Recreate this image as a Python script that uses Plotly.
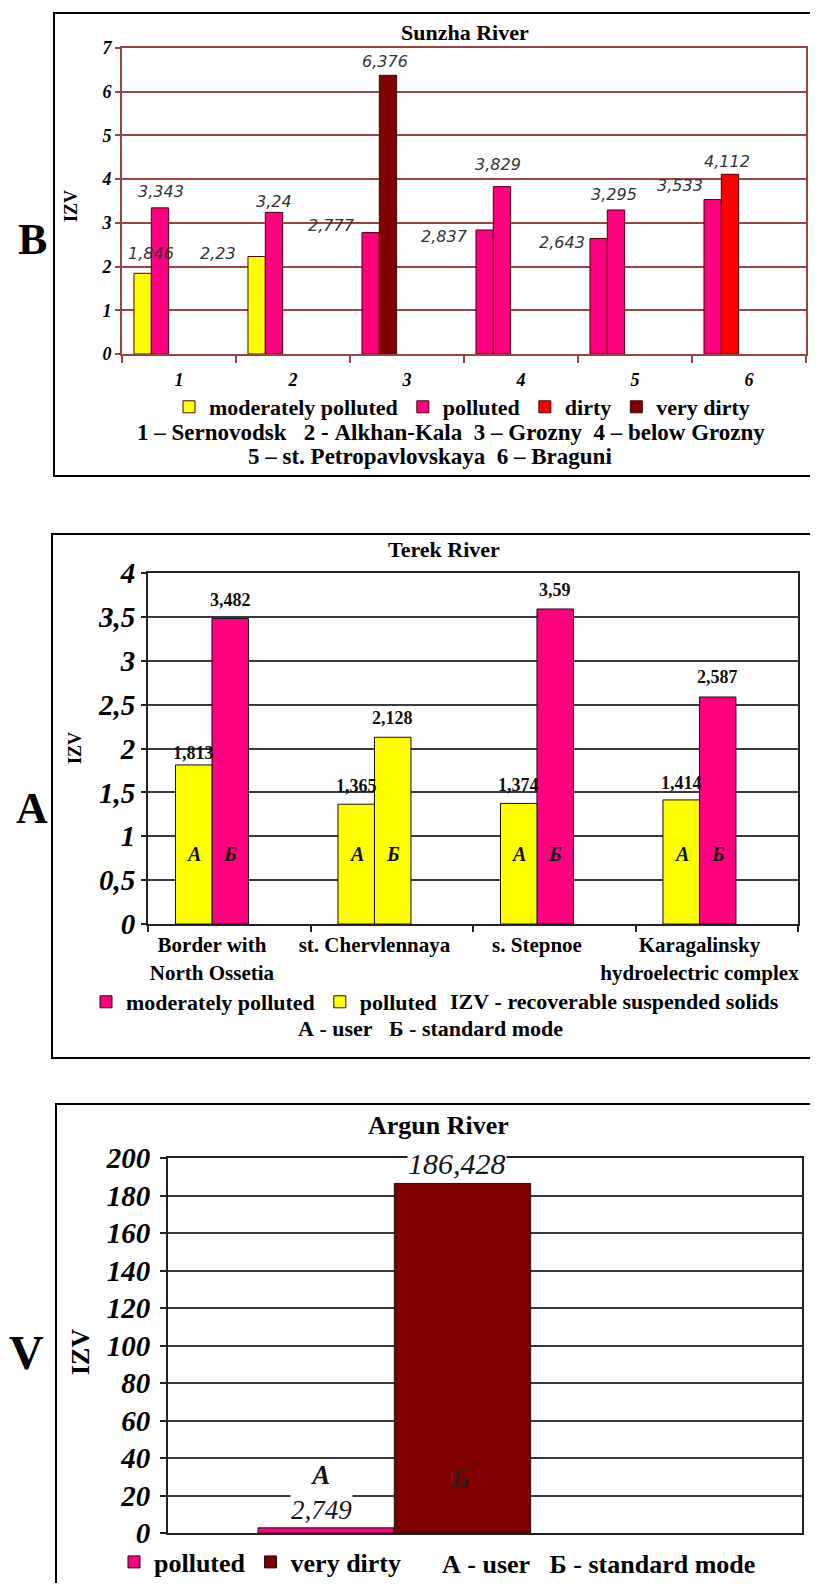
import plotly.graph_objects as go

W, H = 818, 1591          # browser window
BODY = 8                  # default page margin around the plot div
FW, FH = W - 2 * BODY, H - 2 * BODY

# ------------------------------------------------------------------ data
sunzha_sites = ["1", "2", "3", "4", "5", "6"]
sunzha_first = [1.846, 2.23, 2.777, 2.837, 2.643, 3.533]
sunzha_second = [3.343, 3.24, 6.376, 3.829, 3.295, 4.112]
sunzha_first_class = ["moderately polluted", "moderately polluted", "polluted",
                      "polluted", "polluted", "polluted"]
sunzha_second_class = ["polluted", "polluted", "very dirty", "polluted",
                       "polluted", "dirty"]
sunzha_classes = ["moderately polluted", "polluted", "dirty", "very dirty"]
sunzha_y_ticks = [0, 1, 2, 3, 4, 5, 6, 7]
sunzha_key_lines = [
    "1 – Sernovodsk   2 - Alkhan-Kala  3 – Grozny  4 – below Grozny",
    "5 – st. Petropavlovskaya  6 – Braguni",
]

terek_sites = ["Border with<br>North Ossetia", "st. Chervlennaya", "s. Stepnoe",
               "Karagalinsky<br>hydroelectric complex"]
terek_user = [1.813, 1.365, 1.374, 1.414]
terek_standard = [3.482, 2.128, 3.59, 2.587]
terek_user_class = ["polluted", "polluted", "polluted", "polluted"]
terek_standard_class = ["moderately polluted", "polluted",
                        "moderately polluted", "moderately polluted"]
terek_classes = ["moderately polluted", "polluted"]
terek_y_ticks = [0, 0.5, 1, 1.5, 2, 2.5, 3, 3.5, 4]
terek_note = "IZV - recoverable suspended solids"
mode_note = "А - user   Б - standard mode"

argun_user = [2.749]
argun_standard = [186.428]
argun_user_class = ["polluted"]
argun_standard_class = ["very dirty"]
argun_classes = ["polluted", "very dirty"]
argun_y_ticks = [0, 20, 40, 60, 80, 100, 120, 140, 160, 180, 200]

# ------------------------------------------------------------------ styles
SERIF = "Liberation Serif, Times New Roman, serif"
SANS = "DejaVu Sans, Verdana, sans-serif"
YELLOW, PINK, RED, DARKRED = "#FFFF00", "#FF0080", "#FF0000", "#800000"
colors_sunzha = {"moderately polluted": YELLOW, "polluted": PINK,
                 "dirty": RED, "very dirty": DARKRED}
colors_terek = {"moderately polluted": PINK, "polluted": YELLOW}
colors_argun = {"polluted": PINK, "very dirty": DARKRED}
MAROON_LINE = "#9A4545"
GRID_DARK = "#3a3a3a"


def px(x):
    return (x - BODY) / FW


def py(y):
    return 1 - (y - BODY) / FH


def fmt(v):
    return f"{v:g}".replace(".", ",")


def nb(s):
    return s.replace(" ", "\u00a0")


fig = go.Figure()


def add_bars(xa, ya, legend, first, second, first_cls, second_cls, classes,
             cmap, off1, off2, width, line_color):
    for cls in classes:
        xs, ys, offs = [], [], []
        for i in range(len(first)):
            if first_cls[i] == cls:
                xs.append(i + 1); ys.append(first[i]); offs.append(off1)
            if second_cls[i] == cls:
                xs.append(i + 1); ys.append(second[i]); offs.append(off2)
        fig.add_trace(go.Bar(
            x=xs, y=ys, offset=offs, width=width, name=cls,
            marker=dict(color=cmap[cls], line=dict(color=line_color, width=1)),
            xaxis=xa, yaxis=ya, legend=legend, showlegend=True,
            hoverinfo="skip"))


annotations = []


def label(xref, yref, x, y, text, font, dx=0, dy=0, bg=None, yanchor="middle"):
    a = dict(xref=xref, yref=yref, x=x, y=y, text=text, showarrow=False,
             font=font, xshift=dx, yshift=dy, xanchor="center", yanchor=yanchor)
    if bg:
        a["bgcolor"] = bg
        a["borderpad"] = 0
    annotations.append(a)


# ---------------- Panel B : Sunzha
S_OFF1, S_W = -0.395, 0.152
S_OFF2 = S_OFF1 + S_W
add_bars("x", "y", "legend", sunzha_first, sunzha_second, sunzha_first_class,
         sunzha_second_class, sunzha_classes, colors_sunzha, S_OFF1, S_OFF2,
         S_W, "#4a0000")
s_lab_font = dict(family=SANS, size=16, style="italic", color="#333333")
sunzha_first_dx = [8, -39, -39, -40, -37, -33]
sunzha_first_dy = [20, 3, 7, -7, -4, 14]
sunzha_second_dx = [1, 0, -3, -4, -2, -3]
sunzha_second_dy = [16, 11, 14, 22, 15, 13]
for i in range(len(sunzha_sites)):
    label("x", "y", i + 1 + S_OFF1 + S_W / 2, sunzha_first[i], fmt(sunzha_first[i]),
          s_lab_font, sunzha_first_dx[i], sunzha_first_dy[i])
    label("x", "y", i + 1 + S_OFF2 + S_W / 2, sunzha_second[i], fmt(sunzha_second[i]),
          s_lab_font, sunzha_second_dx[i], sunzha_second_dy[i])

# ---------------- Panel A : Terek
T_OFF1, T_W = -0.331, 0.2246
T_OFF2 = T_OFF1 + T_W
add_bars("x2", "y2", "legend2", terek_user, terek_standard, terek_user_class,
         terek_standard_class, terek_classes, colors_terek, T_OFF1, T_OFF2,
         T_W, "#111111")
t_lab_font = dict(family=SERIF, size=18, weight="bold", color="#111111")
terek_user_dy = [12, 18, 18, 17]
terek_standard_dy = [18, 19, 19, 20]
letter_font = dict(family=SERIF, size=20, weight="bold", style="italic", color="#111111")
for i in range(len(terek_sites)):
    label("x2", "y2", i + 1 + T_OFF1 + T_W / 2, terek_user[i], fmt(terek_user[i]),
          t_lab_font, 0, terek_user_dy[i])
    label("x2", "y2", i + 1 + T_OFF2 + T_W / 2, terek_standard[i], fmt(terek_standard[i]),
          t_lab_font, 0, terek_standard_dy[i])
    label("x2", "y2 domain", i + 1 + T_OFF1 + T_W / 2, 0.2, "А", letter_font)
    label("x2", "y2 domain", i + 1 + T_OFF2 + T_W / 2, 0.2, "Б", letter_font)

# ---------------- Panel V : Argun
A_OFF1, A_W = -0.358, 0.215
A_OFF2 = A_OFF1 + A_W
add_bars("x3", "y3", "legend3", argun_user, argun_standard, argun_user_class,
         argun_standard_class, argun_classes, colors_argun, A_OFF1, A_OFF2,
         A_W, "#111111")
a_lab_font = dict(family=SERIF, size=30, style="italic", color="#151515")
label("x3", "y3", 1 + A_OFF2 + A_W / 2, argun_standard[0], fmt(argun_standard[0]),
      a_lab_font, -5, 20, bg="white")
label("x3", "y3", 1 + A_OFF1 + A_W / 2, argun_user[0],
      "<b>А</b><br>" + fmt(argun_user[0]),
      dict(family=SERIF, size=27, style="italic", color="#151515"), -5, 35, bg="white")
label("x3", "y3 domain", 1 + A_OFF2 + A_W / 2, 0.147, "Б",
      dict(family=SERIF, size=30, style="italic", color="#222222"), -3, 0)

# ---------------- titles, letters, notes
def paper_text(x, y, text, font, xanchor="center", angle=0):
    annotations.append(dict(xref="paper", yref="paper", x=px(x), y=py(y), text=text,
                            showarrow=False, font=font, xanchor=xanchor,
                            yanchor="middle", textangle=angle))


def bold(s):
    return dict(family=SERIF, size=s, weight="bold", color="black")


paper_text(465, 32, "Sunzha River", bold(22))
paper_text(444, 550, "Terek River", bold(22))
paper_text(438, 1125, "Argun River", bold(26))
paper_text(32, 240, "B", bold(44))
paper_text(32, 808, "A", bold(44))
paper_text(26, 1352, "V", bold(48))
paper_text(71, 206, "IZV", bold(18), angle=-90)
paper_text(75, 748, "IZV", bold(18), angle=-90)
paper_text(80, 1352, "IZV", bold(26), angle=-90)
paper_text(451, 433, nb(sunzha_key_lines[0]), bold(23))
paper_text(430, 456, nb(sunzha_key_lines[1]), bold(23))
paper_text(448, 1002, nb(terek_note), bold(22), xanchor="left")
paper_text(431, 1028, nb(mode_note), bold(22))
paper_text(440, 1564, nb(mode_note), bold(26), xanchor="left")

# frames
shapes = []
for x0, y0, x1, y1 in [(54, 13, 814, 476), (52, 534, 840, 1058), (56, 1104, 840, 1610)]:
    shapes.append(dict(type="rect", xref="paper", yref="paper", x0=px(x0), x1=px(x1),
                       y0=py(y1), y1=py(y0), line=dict(color="black", width=2),
                       fillcolor="rgba(0,0,0,0)", layer="below"))


def tick_it(s):
    return dict(family=SERIF, size=s, weight="bold", style="italic", color="black")


legend_common = dict(orientation="h", xanchor="left", yanchor="middle",
                     bgcolor="rgba(0,0,0,0)", traceorder="normal",
                     itemclick=False, itemdoubleclick=False)

fig.update_layout(
    width=FW, height=FH,
    margin=dict(l=0, r=0, t=0, b=0, autoexpand=False),
    paper_bgcolor="white", plot_bgcolor="white", barmode="overlay",
    showlegend=True, annotations=annotations, shapes=shapes,
    xaxis=dict(domain=[px(122), px(806)], anchor="y", range=[0.5, 6.5],
               tickmode="array", tickvals=list(range(1, 7)), ticktext=sunzha_sites,
               ticks="", showgrid=False, zeroline=False, showline=True,
               linecolor=MAROON_LINE, linewidth=2, mirror=True, automargin=False,
               tickfont=tick_it(18), ticklabelstandoff=8,
               minor=dict(tickmode="array", tickvals=[k + 0.5 for k in range(7)],
                          ticks="outside", ticklen=7, tickwidth=2,
                          tickcolor=MAROON_LINE, showgrid=False),
               fixedrange=True),
    yaxis=dict(domain=[py(354), py(48)], anchor="x", range=[0, 7],
               tickmode="array", tickvals=sunzha_y_ticks,
               ticktext=[fmt(v) for v in sunzha_y_ticks],
               showgrid=True, gridcolor=MAROON_LINE, gridwidth=2, zeroline=False,
               showline=True, linecolor=MAROON_LINE, linewidth=2, mirror=True,
               ticks="outside", ticklen=5, tickcolor=MAROON_LINE, tickwidth=2,
               tickfont=tick_it(18), automargin=False, fixedrange=True),
    xaxis2=dict(domain=[px(148), px(798)], anchor="y2", range=[0.5, 4.5],
                tickmode="array",
                tickvals=[i + 1 + T_OFF1 + T_W for i in range(len(terek_sites))],
                ticktext=terek_sites, ticks="", showgrid=False, zeroline=False,
                showline=True, linecolor="#222222", linewidth=2, mirror=True,
                tickfont=bold(21), ticklabelstandoff=1, automargin=False,
                minor=dict(tickmode="array", tickvals=[k + 0.5 for k in range(5)],
                           ticks="outside", ticklen=6, tickwidth=2,
                           tickcolor="#222222", showgrid=False),
                fixedrange=True),
    yaxis2=dict(domain=[py(924), py(573)], anchor="x2", range=[0, 4],
                tickmode="array", tickvals=terek_y_ticks,
                ticktext=[fmt(v) for v in terek_y_ticks],
                showgrid=True, gridcolor=GRID_DARK, gridwidth=2, zeroline=False,
                showline=True, linecolor="#222222", linewidth=2, mirror=True,
                ticks="outside", ticklen=5, tickcolor="#222222", tickwidth=2,
                tickfont=tick_it(29), automargin=False, fixedrange=True),
    xaxis3=dict(domain=[px(168), px(802)], anchor="y3", range=[0.5, 1.5],
                showticklabels=False, ticks="", showgrid=False, zeroline=False,
                showline=True, linecolor="#222222", linewidth=2, mirror=True,
                automargin=False, fixedrange=True),
    yaxis3=dict(domain=[py(1533), py(1158)], anchor="x3", range=[0, 200],
                tickmode="array", tickvals=argun_y_ticks,
                ticktext=[fmt(v) for v in argun_y_ticks],
                showgrid=True, gridcolor=GRID_DARK, gridwidth=2, zeroline=False,
                showline=True, linecolor="#222222", linewidth=2, mirror=True,
                ticks="outside", ticklen=6, tickcolor="#222222", tickwidth=2,
                tickfont=tick_it(29), ticklabelstandoff=4, automargin=False,
                fixedrange=True),
    legend=dict(x=px(169), y=py(407), font=bold(22), **legend_common),
    legend2=dict(x=px(86), y=py(1002), font=bold(22), **legend_common),
    legend3=dict(x=px(114), y=py(1562), font=bold(26), **legend_common),
)

fig.write_html("out.html")
